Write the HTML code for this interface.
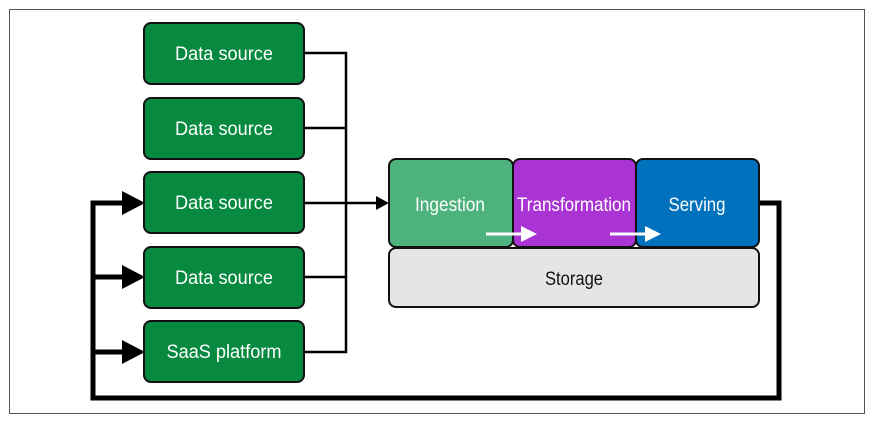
<!DOCTYPE html>
<html><head><style>
body{margin:0;background:#fff}
text{font-family:"Liberation Sans",sans-serif}
</style></head><body>
<svg width="873" height="421" viewBox="0 0 873 421" xmlns="http://www.w3.org/2000/svg">
<rect x="9.5" y="9.5" width="855" height="404" fill="#fff" stroke="#555" stroke-width="1"/>
<g stroke="#000" stroke-width="2.5" fill="none">
<path d="M304 53 H346 V352 H304"/>
<path d="M304 128 H346 M304 277 H346 M304 203 H376"/>
</g>
<polygon points="376,196 389,203 376,210" fill="#000"/>
<path d="M759 203 H779 V398 H93 V203 H126 M93 277 H126 M93 352 H126" stroke="#000" stroke-width="5" fill="none"/>
<polygon points="122,191 145,203 122,215" fill="#000"/>
<polygon points="122,265 145,277 122,289" fill="#000"/>
<polygon points="122,340 145,352 122,364" fill="#000"/>
<g fill="#078a3f" stroke="#111" stroke-width="2">
<rect x="144" y="23" width="160" height="61" rx="7"/>
<rect x="144" y="98" width="160" height="61" rx="7"/>
<rect x="144" y="172" width="160" height="61" rx="7"/>
<rect x="144" y="247" width="160" height="61" rx="7"/>
<rect x="144" y="321" width="160" height="61" rx="7"/>
</g>
<g fill="#fff" font-size="19" text-anchor="middle">
<text x="224" y="60" textLength="98" lengthAdjust="spacingAndGlyphs">Data source</text>
<text x="224" y="135" textLength="98" lengthAdjust="spacingAndGlyphs">Data source</text>
<text x="224" y="209" textLength="98" lengthAdjust="spacingAndGlyphs">Data source</text>
<text x="224" y="284" textLength="98" lengthAdjust="spacingAndGlyphs">Data source</text>
<text x="224" y="358" textLength="115" lengthAdjust="spacingAndGlyphs">SaaS platform</text>
</g>
<rect x="389" y="248" width="370" height="59" rx="7" fill="#e5e5e5" stroke="#111" stroke-width="2"/>
<rect x="389" y="159" width="124" height="88" rx="7" fill="#4db27b" stroke="#111" stroke-width="2"/>
<rect x="513" y="159" width="123" height="88" rx="7" fill="#aa33d4" stroke="#111" stroke-width="2"/>
<rect x="636" y="159" width="123" height="88" rx="7" fill="#0071bd" stroke="#111" stroke-width="2"/>
<g fill="#fff" font-size="19" text-anchor="middle">
<text x="450" y="211" textLength="70" lengthAdjust="spacingAndGlyphs">Ingestion</text>
<text x="574" y="211" textLength="114" lengthAdjust="spacingAndGlyphs">Transformation</text>
<text x="697" y="211" textLength="57" lengthAdjust="spacingAndGlyphs">Serving</text>
</g>
<text x="574" y="285" font-size="19" text-anchor="middle" fill="#111" textLength="58" lengthAdjust="spacingAndGlyphs">Storage</text>
<g fill="#fff" stroke="#fff">
<line x1="486" y1="234" x2="524" y2="234" stroke-width="3"/>
<polygon points="521,226 537,234 521,242" stroke="none"/>
<line x1="610" y1="234" x2="648" y2="234" stroke-width="3"/>
<polygon points="645,226 661,234 645,242" stroke="none"/>
</g>
</svg>
</body></html>
